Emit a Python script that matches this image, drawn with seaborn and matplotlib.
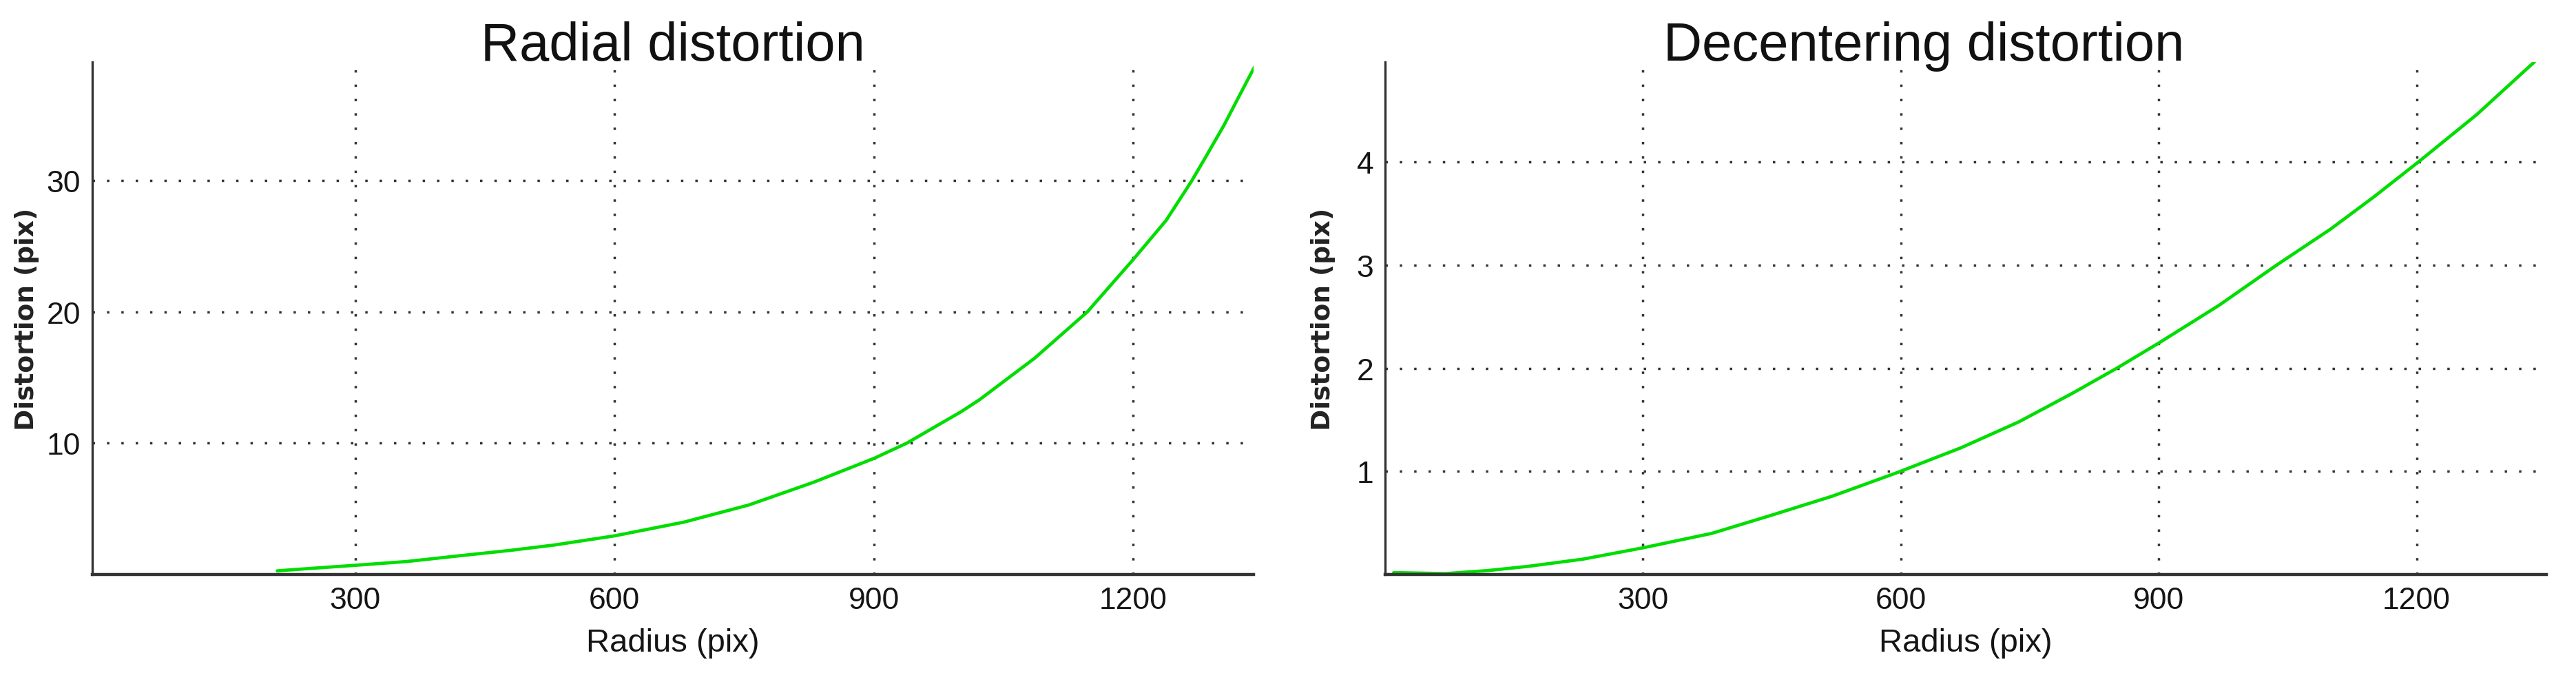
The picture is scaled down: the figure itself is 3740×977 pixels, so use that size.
import matplotlib
matplotlib.use("Agg")
import matplotlib.pyplot as plt
import seaborn as sns
import pandas as pd

# radial distortion curve
radial_r = [210, 250, 300, 360, 420, 480, 530, 600, 680, 755, 830, 900, 938,
            1001, 1022, 1086, 1147, 1200, 1238, 1268, 1284, 1305, 1324, 1344]
radial_d = [0.29, 0.48, 0.71, 1.0, 1.43, 1.85, 2.25, 2.95, 3.99, 5.29, 7.02, 8.84, 10.0,
            12.4, 13.3, 16.47, 20.0, 23.98, 26.95, 30.0, 31.8, 34.2, 36.6, 39.1]

# decentering distortion curve
decent_r = [10, 70, 120, 166, 230, 300, 380, 451, 520, 596, 670, 737, 800, 851,
            901, 970, 1037, 1100, 1150, 1202, 1270, 1337]
decent_d = [0.02, 0.01, 0.04, 0.08, 0.15, 0.26, 0.40, 0.58, 0.76, 0.99, 1.23, 1.48, 1.76, 2.0,
            2.25, 2.61, 3.0, 3.35, 3.66, 4.0, 4.46, 4.97]

x_ticks = [300, 600, 900, 1200]
radial_yticks = [10, 20, 30]
decent_yticks = [1, 2, 3, 4]

sns.set_style("white")
plt.rcParams['font.family'] = ['Liberation Sans', 'DejaVu Sans']

fig = plt.figure(figsize=(37.4, 9.78), dpi=100)
ax1 = fig.add_axes([0.0358, 0.146, 0.4508, 0.761])
ax2 = fig.add_axes([0.5377, 0.146, 0.4508, 0.761])

green = '#00dd00'
df1 = pd.DataFrame({'r': radial_r, 'd': radial_d})
df2 = pd.DataFrame({'r': decent_r, 'd': decent_d})
sns.lineplot(data=df1, x='r', y='d', ax=ax1, color=green, linewidth=3.4)
sns.lineplot(data=df2, x='r', y='d', ax=ax2, color=green, linewidth=3.4)

setups = [
    (ax1, "Radial distortion", 0.5, radial_yticks, (0, 39), (-4, 1339), 8),
    (ax2, "Decentering distortion", 0.464, decent_yticks, (0, 4.97), (0, 1351), 22),
]
for ax, title, tx, yt, yl, xl, ypad in setups:
    ax.set_xlim(*xl)
    ax.set_ylim(*yl)
    ax.set_xticks(x_ticks)
    ax.set_yticks(yt)
    ax.grid(True, color='#333333', linestyle=(0, (1, 5)), linewidth=2.5)
    for s in ['top', 'right']:
        ax.spines[s].set_visible(False)
    ax.spines['left'].set_color('#333333')
    ax.spines['left'].set_linewidth(2.4)
    ax.spines['bottom'].set_color('#333333')
    ax.spines['bottom'].set_linewidth(3.2)
    ax.tick_params(length=0, labelsize=32, pad=12, labelcolor='#151515')
    ax.set_title(title, fontsize=56, pad=2, color='#111111', x=tx)
    ax.set_xlabel("Radius (pix)", fontsize=34, labelpad=14, color='#151515')
    ax.set_ylabel("Distortion (pix)", fontsize=27, fontweight='bold',
                  family=['DejaVu Sans'], labelpad=ypad, color='#222222')

plt.savefig("out.png", dpi=100)
plt.close()
